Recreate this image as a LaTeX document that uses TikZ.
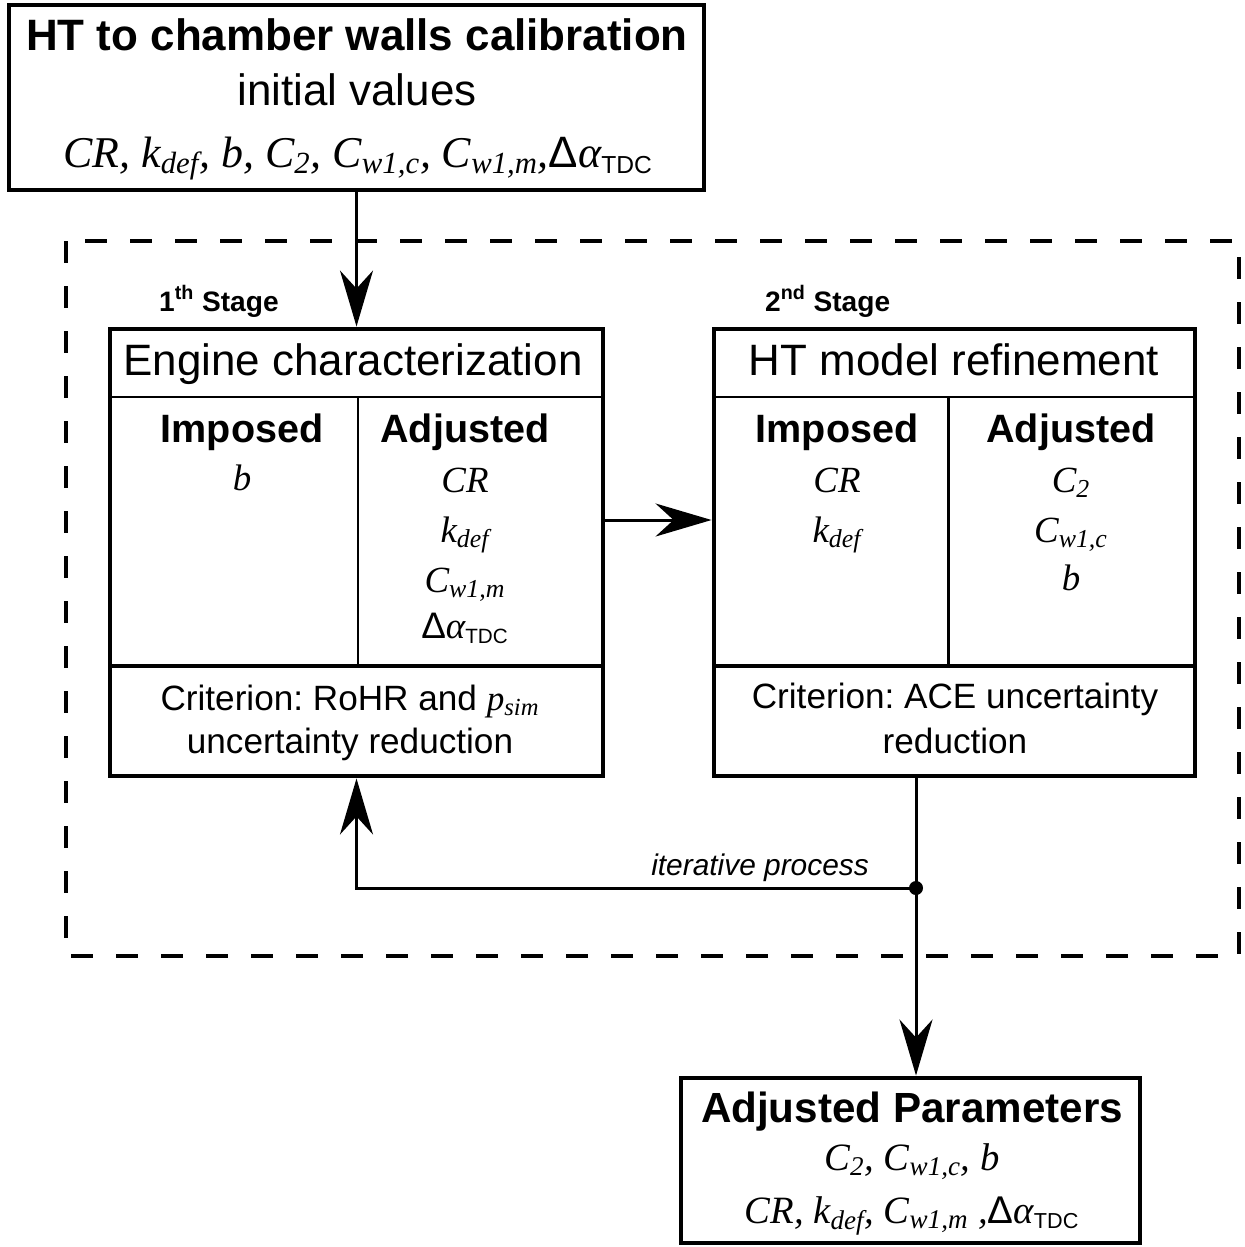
\documentclass[tikz,border=0pt]{standalone}
\usepackage{fontspec}
\setmainfont{Liberation Serif}
\setsansfont{Liberation Sans}
\usetikzlibrary{arrows.meta}
\frenchspacing

% parameter names (italic serif) and the TDC offset
\newcommand{\iv}[1]{{\rmfamily\itshape #1}}
\newcommand{\ivs}[2]{{\rmfamily\itshape #1\textsubscript{#2}}}
\newcommand{\dtdc}{{\sffamily Δ}{\rmfamily\itshape α}\textsubscript{\sffamily\scalebox{0.8}{TDC}}}

\tikzset{
  box/.style={draw, line width=2.8pt, inner sep=0pt},
  divline/.style={line width=1.7pt},
  link/.style={line width=1.7pt, -{Stealth[length=1.12cm, width=0.66cm, inset=0.36cm]}},
  frame/.style={line width=2.8pt, dash pattern=on 0.44cm off 0.46cm},
  ttl/.style={font=\sffamily\bfseries\fontsize{25}{30}\selectfont, anchor=base},
  sub/.style={font=\sffamily\fontsize{25}{30}\selectfont, anchor=base},
  head/.style={font=\sffamily\bfseries\fontsize{22.5}{27}\selectfont, anchor=base},
  val/.style={font=\sffamily\fontsize{21}{25}\selectfont, anchor=base},
  crit/.style={font=\sffamily\fontsize{20}{24}\selectfont, anchor=base},
  stage/.style={font=\sffamily\bfseries\fontsize{16}{19}\selectfont, anchor=base west},
}

\begin{document}
\begin{tikzpicture}[font=\sffamily]
  \useasboundingbox (0,0) rectangle (24.88,-24.94);

  % --- dashed frame round the two stages ---
  \draw[frame] (1.32,-4.82) rectangle (24.78,-19.12);

  % --- initial values ---
  \node[box, minimum width=13.9cm, minimum height=3.7cm] (init) at (7.13,-1.95) {};
  \node[ttl] (initT) at (7.14,-1.0) {HT to chamber walls calibration};
  \node[sub] (initS) at (7.14,-2.1) {initial values};
  \node[sub, font=\sffamily\fontsize{25}{30}\selectfont] (initV) at (7.16,-3.34)
    {\iv{CR, }\ivs{k}{def}\iv{, b, }\ivs{C}{2}\iv{, }\ivs{C}{w1,c}\iv{, }\ivs{C}{w1,m}\iv{,}\dtdc};

  % --- 1th stage: engine characterization ---
  \node[stage] (st1) at (3.06,-6.22) {1\textsuperscript{th} Stage};
  \node[box, minimum width=9.86cm, minimum height=8.94cm] (eng) at (7.13,-11.05) {};
  \draw[divline] (2.2,-7.94) -- (12.06,-7.94);
  \draw[divline] (7.16,-7.94) -- (7.16,-13.32);
  \draw[line width=2.8pt] (2.2,-13.32) -- (12.06,-13.32);

  \node[sub] (engT) at (7.06,-7.5) {Engine characterization};
  \node[head] (engI) at (4.84,-8.84) {Imposed};
  \node[head] (engA) at (9.3,-8.84) {Adjusted};
  \node[val] (engI1) at (4.84,-9.8) {\iv{b}};
  \node[val] (engA1) at (9.3,-9.84) {\iv{CR}};
  \node[val] (engA2) at (9.3,-10.84) {\ivs{k}{def}};
  \node[val] (engA3) at (9.3,-11.84) {\ivs{C}{w1,m}};
  \node[val] (engA4) at (9.3,-12.76) {\dtdc};
  \node[crit] (engC1) at (7.0,-14.2) {Criterion: RoHR and \ivs{p}{sim}};
  \node[crit] (engC2) at (7.0,-15.06) {uncertainty reduction};

  % --- 2nd stage: HT model refinement ---
  \node[stage] (st2) at (15.18,-6.22) {2\textsuperscript{nd} Stage};
  \node[box, minimum width=9.62cm, minimum height=8.94cm] (ref) at (19.09,-11.05) {};
  \draw[divline] (14.28,-7.94) -- (23.9,-7.94);
  \draw[divline] (18.96,-7.94) -- (18.96,-13.32);
  \draw[line width=2.8pt] (14.28,-13.32) -- (23.9,-13.32);

  \node[sub] (refT) at (19.08,-7.5) {HT model refinement};
  \node[head] (refI) at (16.74,-8.84) {Imposed};
  \node[head] (refA) at (21.42,-8.84) {Adjusted};
  \node[val] (refI1) at (16.74,-9.84) {\iv{CR}};
  \node[val] (refI2) at (16.74,-10.84) {\ivs{k}{def}};
  \node[val] (refA1) at (21.42,-9.84) {\ivs{C}{2}};
  \node[val] (refA2) at (21.42,-10.84) {\ivs{C}{w1,c}};
  \node[val] (refA3) at (21.42,-11.8) {\iv{b}};
  \node[crit] (refC1) at (19.1,-14.16) {Criterion: ACE uncertainty};
  \node[crit] (refC2) at (19.1,-15.06) {reduction};

  % --- result ---
  \node[box, minimum width=9.18cm, minimum height=3.3cm] (res) at (18.21,-23.21) {};
  \node[ttl, font=\sffamily\bfseries\fontsize{24}{29}\selectfont] (resT) at (18.24,-22.44) {Adjusted Parameters};
  \node[val, font=\sffamily\fontsize{22}{26}\selectfont] (resV1) at (18.24,-23.4)
    {\ivs{C}{2}\iv{, }\ivs{C}{w1,c}\iv{, b}};
  \node[val, font=\sffamily\fontsize{22}{26}\selectfont] (resV2) at (18.24,-24.46)
    {\iv{CR, }\ivs{k}{def}\iv{, }\ivs{C}{w1,m}\iv{ ,}\dtdc};

  % --- connectors ---
  \coordinate (split) at (18.32,-17.76);
  \draw[link] (init.south) -- (eng.north);
  \draw[link] ([yshift=0.65cm]eng.east) -- ([yshift=0.65cm]ref.west);
  \draw[line width=1.7pt] (ref.south -| split) -- (split);
  \draw[link] (split) -| (eng.south);
  \draw[link] (split) -- (split |- res.north);
  \fill (split) circle (0.14);
  \node[anchor=base east, font=\sffamily\itshape\fontsize{17}{20}\selectfont] (iter) at (17.5,-17.5) {iterative process};

\end{tikzpicture}
\end{document}
